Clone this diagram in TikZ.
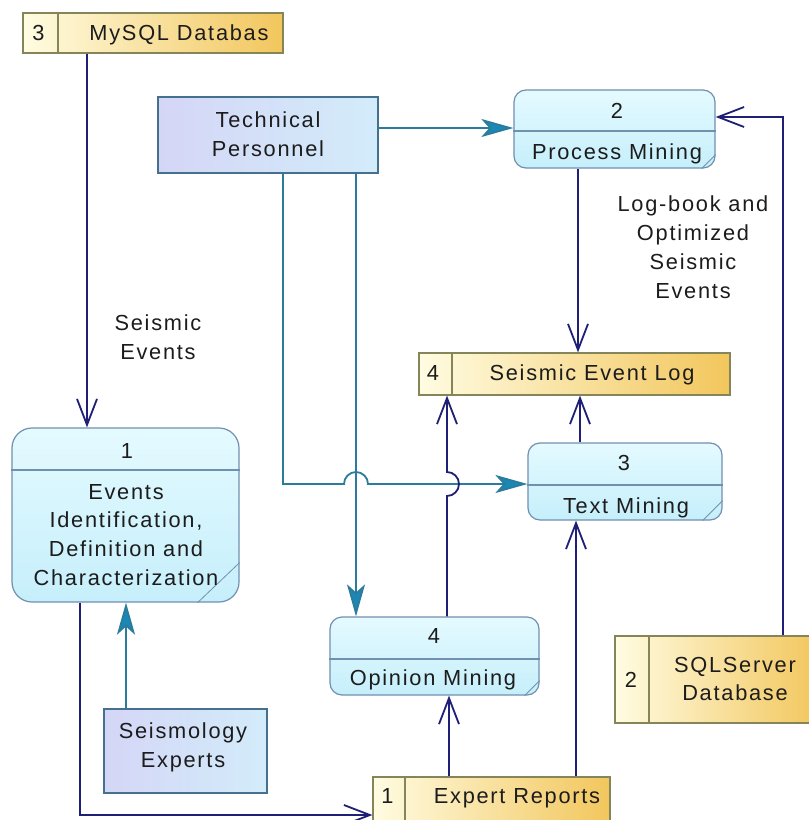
\documentclass[tikz,border=0pt]{standalone}
\usepackage{fontspec}
\setmainfont{Liberation Sans}[LetterSpace=8]
\usetikzlibrary{arrows.meta, positioning, calc}
\definecolor{flowc}{HTML}{1F1F77}
\definecolor{entln}{HTML}{45708E}
\definecolor{entcol}{HTML}{2B7C9C}
\definecolor{entarr}{HTML}{1B87B4}
\definecolor{entl}{HTML}{D4D6F6}
\definecolor{entr}{HTML}{D3ECFA}
\definecolor{storeln}{HTML}{85855A}
\definecolor{storel}{HTML}{FFFCE2}
\definecolor{storer}{HTML}{F2C65C}
\definecolor{procln}{HTML}{7190B0}
\definecolor{proct}{HTML}{E4FAFF}
\definecolor{procb}{HTML}{C6EFFB}
\definecolor{textc}{HTML}{1C1C1C}
\newcommand{\dfdfont}{\fontsize{15.5}{20.5}\selectfont}
\tikzset{
  store/.style={draw=storeln, line width=0.3mm, left color=storel, right color=storer, inner sep=0pt},
  ent/.style={draw=entln, line width=0.3mm, left color=entl, right color=entr, inner sep=0pt},
  proc/.style={draw=procln, line width=0.3mm, top color=proct, bottom color=procb, rounded corners=3mm, inner sep=0pt},
  lab/.style={inner sep=0pt, align=center, text=textc},
  sdiv/.style={draw=storeln, line width=0.3mm},
  pdiv/.style={draw=procln, line width=0.3mm},
  corn/.style={draw=procln, line width=0.2mm},
  flow/.style={draw=flowc, line width=0.45mm, -{Straight Barb[length=6.5mm,width=5mm]}},
  cflow/.style={draw=entcol, line width=0.45mm, -{Stealth[length=8mm,width=4.5mm,inset=2mm,fill=entarr]}}
}
\begin{document}
\begin{tikzpicture}[x=0.25mm, y=-0.25mm, font=\dfdfont]
	\path[use as bounding box, fill=white] (0,0) rectangle (809,820);
	% data stores
	\node[store, minimum width=65mm, minimum height=10mm] (mys) at (153,33) {};
	\draw[sdiv] (mys.north -| 58,0) -- (mys.south -| 58,0);
	\node[lab, anchor=base] (mysN) at (38.5,40) {3};
	\node[lab, anchor=base] (mysT) at (179,40) {MySQL Databas};
	\node[store, minimum width=77.75mm, minimum height=10.5mm] (sel) at (574.5,374) {};
	\draw[sdiv] (sel.north -| 452,0) -- (sel.south -| 452,0);
	\node[lab, anchor=base] (selN) at (433,380) {4};
	\node[lab, anchor=base] (selT) at (592,380) {Seismic Event Log};
	\node[store, minimum width=51.25mm, minimum height=21.75mm] (sql) at (717.5,679.5) {};
	\draw[sdiv] (sql.north -| 649,0) -- (sql.south -| 649,0);
	\node[lab, anchor=base] (sqlN) at (631,687) {2};
	\node[lab] (sqlT) at (735,679) {SQLServer\\Database};
	\node[store, minimum width=59.25mm, minimum height=12mm] (er) at (491.5,801) {};
	\draw[sdiv] (er.north -| 405,0) -- (er.south -| 405,0);
	\node[lab, anchor=base] (erN) at (387.5,803) {1};
	\node[lab, anchor=base] (erT) at (517,803) {Expert Reports};
	% external entities
	\node[ent, minimum width=55mm, minimum height=19mm] (tp) at (268,135) {};
	\node[lab] (tpT) at (268,134) {Technical\\Personnel};
	\node[ent, minimum width=40.75mm, minimum height=21mm] (se) at (185.5,751) {};
	\node[lab] (seT) at (183,747) {Seismology\\Experts};
	% processes
	\node[proc, minimum width=50.25mm, minimum height=19.5mm] (pm) at (614.5,129) {};
	\draw[pdiv] (pm.west |- 0,131) -- (pm.east |- 0,131);
	\draw[corn] ([xshift=-3.5mm]pm.south east) -- ([yshift=3.5mm]pm.south east);
	\node[lab, anchor=base] (pmN) at (617,118) {2};
	\node[lab, anchor=base] (pmT) at (617,159) {Process Mining};
	\node[proc, rounded corners=5mm, minimum width=56.75mm, minimum height=43.5mm] (p1) at (125.5,515) {};
	\draw[pdiv] (p1.west |- 0,470) -- (p1.east |- 0,470);
	\draw[corn] ([xshift=-10.5mm]p1.south east) -- ([yshift=10mm]p1.south east);
	\node[lab, anchor=base] (p1N) at (127,458) {1};
	\node[lab] (p1T) at (126,535) {Events\\Identification,\\Definition and\\Characterization};
	\node[proc, minimum width=48.5mm, minimum height=19.25mm] (tm) at (625,481.5) {};
	\draw[pdiv] (tm.west |- 0,485) -- (tm.east |- 0,485);
	\draw[corn] ([xshift=-5mm]tm.south east) -- ([yshift=5mm]tm.south east);
	\node[lab, anchor=base] (tmN) at (624,470) {3};
	\node[lab, anchor=base] (tmT) at (626,513) {Text Mining};
	\node[proc, minimum width=52.25mm, minimum height=19.5mm] (om) at (434.5,656) {};
	\draw[pdiv] (om.west |- 0,659) -- (om.east |- 0,659);
	\draw[corn] ([xshift=-3.75mm]om.south east) -- ([yshift=3.75mm]om.south east);
	\node[lab, anchor=base] (omN) at (434,643) {4};
	\node[lab, anchor=base] (omT) at (433,685) {Opinion Mining};
	% flows
	\draw[flow] (mys.south -| 87,0) -- (p1.north -| 87,0);
	\node[lab] (flSE) at (158,337) {Seismic\\Events};
	\draw[cflow] (tp.east |- 0,128) -- (pm.west |- 0,128);
	\draw[cflow] (tp.south -| 283,0) -- (283,484) -- (344,484)
		arc[start angle=180, end angle=0, radius=3mm] -- (tm.west |- 0,484);
	\draw[cflow] (tp.south -| 356,0) -- (om.north -| 356,0);
	\draw[flow] (pm.south -| 578,0) -- (sel.north -| 578,0);
	\node[lab] (flLB) at (693,247) {Log-book and\\Optimized\\Seismic\\Events};
	\draw[flow] (sql.north -| 783,0) -- (783,117) -- (pm.east |- 0,117);
	\draw[flow] (tm.north -| 580,0) -- (sel.south -| 580,0);
	\draw[flow] (om.north -| 447,0) -- (447,496)
		arc[start angle=270, end angle=450, radius=3mm] -- (sel.south -| 447,0);
	\draw[flow] (er.north -| 449,0) -- (om.south -| 449,0);
	\draw[flow] (er.north -| 576,0) -- (tm.south -| 576,0);
	\draw[flow] (p1.south -| 80,0) -- (80,815) -- (er.west |- 0,815);
	\draw[cflow] (se.north -| 126,0) -- (p1.south -| 126,0);
\end{tikzpicture}
\end{document}
